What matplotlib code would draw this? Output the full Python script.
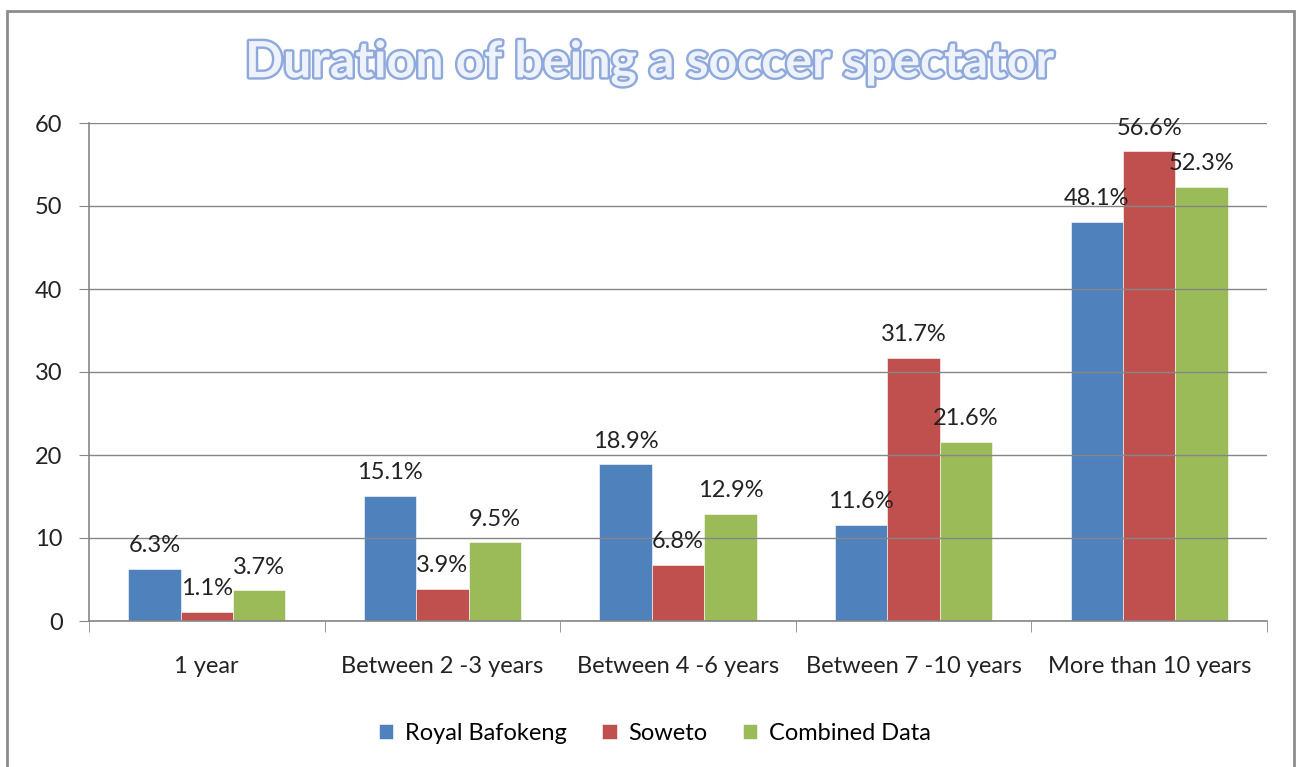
import matplotlib
matplotlib.use("Agg")
import matplotlib.pyplot as plt
import matplotlib.patheffects as pe
import numpy as np
from matplotlib.patches import Rectangle

categories = ["1 year", "Between 2 -3 years", "Between 4 -6 years",
              "Between 7 -10 years", "More than 10 years"]
royal_bafokeng = [6.3, 15.1, 18.9, 11.6, 48.1]
soweto = [1.1, 3.9, 6.8, 31.7, 56.6]
combined = [3.7, 9.5, 12.9, 21.6, 52.3]
series_names = ["Royal Bafokeng", "Soweto", "Combined Data"]
y_ticks = [0, 10, 20, 30, 40, 50, 60]

colors = ["#4F81BD", "#C0504D", "#9BBB59"]
grid_col = "#868686"
font = "Lato"

plt.rcParams["font.family"] = [font, "DejaVu Sans"]

fig = plt.figure(figsize=(12.98, 7.67), dpi=100)
ax = fig.add_axes([89 / 1298, 1 - 621 / 767, (1267 - 89) / 1298, (621 - 123) / 767])

# outer chart frame (bottom edge runs off the image)
fig.patches.append(Rectangle((7 / 1298, -0.05), (1294 - 7) / 1298, 1.05 - 11 / 767,
                             transform=fig.transFigure, fill=False,
                             edgecolor="#8c8c8c", linewidth=2))

x = np.arange(len(categories))
w = 1 / 4.5
for i, (vals, name) in enumerate(zip([royal_bafokeng, soweto, combined], series_names)):
    pos = x + (i - 1) * w
    bars = ax.bar(pos, vals, width=w, color=colors[i], label=name,
                  edgecolor="white", linewidth=0.4, zorder=1)
    for b, v in zip(bars, vals):
        ax.annotate(f"{v}%", (b.get_x() + b.get_width() / 2, v),
                    xytext=(0, 9), textcoords="offset points",
                    ha="center", va="bottom", fontsize=17, color="#222222",
                    zorder=3)

ax.set_xlim(-0.5, len(categories) - 0.5)
ax.set_ylim(0, 60)
ax.set_yticks(y_ticks)
ax.tick_params(axis="y", labelsize=17, length=7, color=grid_col, pad=12,
               labelcolor="#222222")
ax.yaxis.grid(True, color=grid_col, linewidth=1)
ax.set_axisbelow(False)
for gl in ax.get_ygridlines():
    gl.set_zorder(0.5)

ax.set_xticks(x)
ax.set_xticklabels(categories)
ax.set_xticks(np.arange(-0.5, len(categories)), minor=True)
ax.tick_params(axis="x", which="major", length=0, labelsize=17, pad=25,
               labelcolor="#222222")
ax.tick_params(axis="x", which="minor", length=8, color=grid_col)

for s in ["top", "right"]:
    ax.spines[s].set_visible(False)
for s in ["left", "bottom"]:
    ax.spines[s].set_color(grid_col)
    ax.spines[s].set_linewidth(1.2)

fig.text(0.5, 1 - 63 / 767, "Duration of being a soccer spectator",
         ha="center", va="center", fontsize=36, fontweight="bold",
         color="#eef2fb",
         path_effects=[pe.Stroke(linewidth=3.5, foreground="#8fa9dc"),
                       pe.Normal()])

fig.legend(loc="center", bbox_to_anchor=(655 / 1298, 1 - 733 / 767), ncol=3,
           frameon=False, fontsize=17, handlelength=0.6, handleheight=0.6,
           handletextpad=0.5, columnspacing=1.5)

fig.savefig("out.png", dpi=100)
